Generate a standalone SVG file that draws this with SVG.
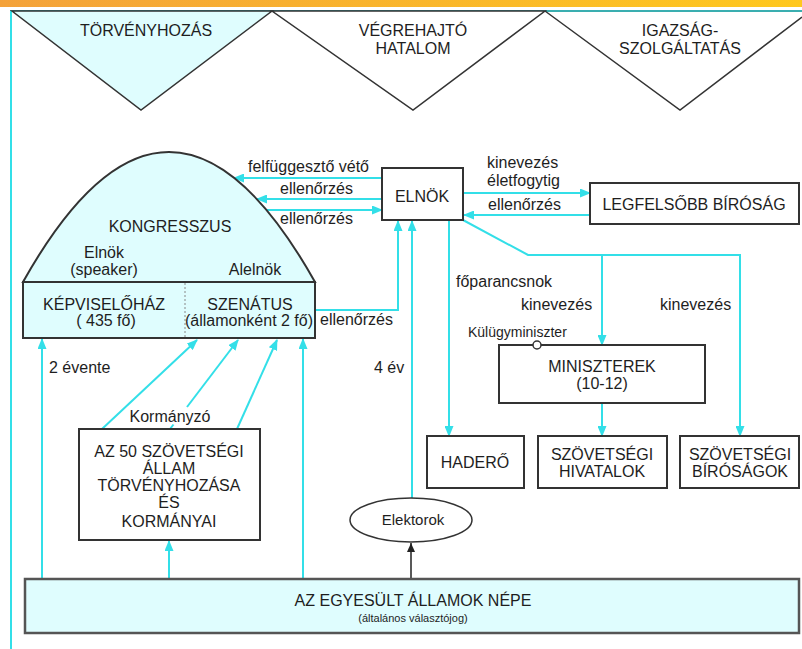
<svg xmlns="http://www.w3.org/2000/svg" width="802" height="649" viewBox="0 0 802 649">
<defs>
<linearGradient id="topbar" x1="0" y1="0" x2="1" y2="0">
<stop offset="0" stop-color="#f4a23a"/>
<stop offset="1" stop-color="#ffc81e"/>
</linearGradient>
<marker id="ac" markerUnits="userSpaceOnUse" markerWidth="11" markerHeight="9" refX="10" refY="4.5" orient="auto">
<path d="M0,0 L11,4.5 L0,9 z" fill="#33dfe8"/>
</marker>
<marker id="ak" markerUnits="userSpaceOnUse" markerWidth="9" markerHeight="8" refX="9" refY="4" orient="auto">
<path d="M0,0 L9,4 L0,8 z" fill="#222"/>
</marker>
<style>
text{font-family:"Liberation Sans",Arial,sans-serif;font-size:16px;fill:#1e1e1e}
.m{text-anchor:middle}
.s{font-size:14px}
.e{font-size:15px}
.xs{font-size:11px}
.box{fill:#fff;stroke:#333;stroke-width:2}
.lbox{fill:#dffdfe;stroke:#333;stroke-width:2}
.tri{fill:#fff;stroke:#333;stroke-width:1.5}
.c{fill:none;stroke:#33dfe8;stroke-width:2}
.ca{fill:none;stroke:#33dfe8;stroke-width:2;marker-end:url(#ac)}
.ka{fill:none;stroke:#222;stroke-width:1.5;marker-end:url(#ak)}
</style>
</defs>
<rect x="0" y="0" width="802" height="649" fill="#fff"/>
<rect x="0" y="0" width="802" height="7" fill="url(#topbar)"/>
<line x1="10" y1="11" x2="802" y2="11" stroke="#3aaeb0" stroke-width="2"/>
<line x1="11" y1="11" x2="11" y2="649" stroke="#33dfe8" stroke-width="2"/>

<g id="branches">
<polygon class="tri" points="12,11 272,11 141,110" style="fill:#dffdfe"/>
<polygon class="tri" points="272,11 545,11 413,110"/>
<polyline points="545,11 680,110 802,17" fill="none" stroke="#333" stroke-width="1.5"/>
<text class="m" x="146" y="36">TÖRVÉNYHOZÁS</text>
<text class="m" x="413" y="36">VÉGREHAJTÓ</text>
<text class="m" x="413" y="54">HATALOM</text>
<text class="m" x="680" y="36">IGAZSÁG-</text>
<text class="m" x="680" y="54">SZOLGÁLTATÁS</text>
</g>

<g id="connectors">
<line class="ca" x1="382" y1="178" x2="234" y2="178"/>
<line class="ca" x1="382" y1="199" x2="257" y2="199"/>
<line class="ca" x1="266" y1="210" x2="382" y2="210"/>
<line class="ca" x1="463" y1="193" x2="590" y2="193"/>
<line class="ca" x1="590" y1="215" x2="464" y2="215"/>
<polyline class="ca" points="463,220 528,255 740,255 740,436"/>
<line class="ca" x1="602" y1="255" x2="602" y2="345"/>
<line class="ca" x1="449" y1="220" x2="449" y2="436"/>
<polyline class="ca" points="315,310 398,310 398,221"/>
<line class="ca" x1="412" y1="498" x2="412" y2="221"/>
<line class="ca" x1="602" y1="403" x2="602" y2="436"/>
<line class="ca" x1="42" y1="579" x2="42" y2="339"/>
<line class="ca" x1="303" y1="579" x2="303" y2="339"/>
<line class="ca" x1="169" y1="579" x2="169" y2="541"/>
<line class="ca" x1="102" y1="429" x2="197" y2="340"/>
<line class="c" x1="170" y1="429" x2="173.5" y2="424.5"/>
<line class="ca" x1="187" y1="407" x2="238" y2="340"/>
<line class="ca" x1="237" y1="429" x2="277" y2="340"/>
<line class="ka" x1="411" y1="579" x2="411" y2="543"/>
<text x="248" y="172">felfüggesztő vétő</text>
<text x="280" y="194">ellenőrzés</text>
<text x="280" y="224">ellenőrzés</text>
<text x="320" y="325">ellenőrzés</text>
<text x="487" y="168">kinevezés</text>
<text x="487" y="186">életfogytig</text>
<text x="488" y="210">ellenőrzés</text>
<text x="456" y="287">főparancsnok</text>
<text x="521" y="310">kinevezés</text>
<text x="660" y="310">kinevezés</text>
<text class="s" x="468" y="337">Külügyminiszter</text>
<text x="49" y="373">2 évente</text>
<text x="374" y="373">4 év</text>
<text class="m" x="170" y="422">Kormányzó</text>
</g>

<g id="kongresszus">
<path d="M23,282 Q169,22 315,282 Z" fill="#dffdfe" stroke="#333" stroke-width="2"/>
<text class="m" x="170" y="232">KONGRESSZUS</text>
<text class="m" x="104" y="258">Elnök</text>
<text class="m" x="104" y="275">(speaker)</text>
<text class="m" x="255" y="275">Alelnök</text>
</g>

<g id="kepviselohaz">
<rect class="lbox" x="23" y="282" width="292" height="56"/>
<line x1="185" y1="283" x2="185" y2="337" stroke="#888" stroke-width="1" stroke-dasharray="2,2"/>
<text class="m" x="104" y="310">KÉPVISELŐHÁZ</text>
<text class="m" x="106" y="326">( 435 fő)</text>
</g>

<g id="szenatus">
<text class="m" x="250" y="310">SZENÁTUS</text>
<text class="m" x="249" y="326">(államonként 2 fő)</text>
</g>

<g id="elnok">
<rect class="box" x="382" y="168" width="81" height="52"/>
<text class="m" x="422" y="202">ELNÖK</text>
</g>

<g id="legfelsobb">
<rect class="box" x="590" y="183" width="209" height="41"/>
<text class="m" x="694" y="210">LEGFELSŐBB BÍRÓSÁG</text>
</g>

<g id="miniszterek">
<rect class="box" x="499" y="345" width="206" height="58"/>
<circle cx="537" cy="345" r="4" fill="#fff" stroke="#333" stroke-width="1.5"/>
<text class="m" x="602" y="372">MINISZTEREK</text>
<text class="m" x="602" y="389">(10-12)</text>
</g>

<g id="hadero">
<rect class="box" x="427" y="436" width="97" height="52"/>
<text class="m" x="475" y="468">HADERŐ</text>
</g>

<g id="hivatalok">
<rect class="box" x="538" y="436" width="129" height="52"/>
<text class="m" x="602" y="460">SZÖVETSÉGI</text>
<text class="m" x="602" y="477">HIVATALOK</text>
</g>

<g id="birosagok">
<rect class="box" x="680" y="436" width="119" height="52"/>
<text class="m" x="740" y="460">SZÖVETSÉGI</text>
<text class="m" x="740" y="477">BÍRÓSÁGOK</text>
</g>

<g id="allamok">
<rect class="box" x="79" y="429" width="181" height="111"/>
<text class="m" x="169" y="457">AZ 50 SZÖVETSÉGI</text>
<text class="m" x="169" y="474">ÁLLAM</text>
<text class="m" x="169" y="491">TÖRVÉNYHOZÁSA</text>
<text class="m" x="169" y="508">ÉS</text>
<text class="m" x="169" y="527">KORMÁNYAI</text>
</g>

<g id="elektorok">
<ellipse cx="411" cy="520" rx="61" ry="22" fill="#fff" stroke="#333" stroke-width="1.5"/>
<text class="e m" x="413" y="525">Elektorok</text>
</g>

<g id="nepe">
<rect x="25" y="579" width="774" height="54" fill="#dffdfe" stroke="#555" stroke-width="2.5"/>
<text class="m" x="413" y="606">AZ EGYESÜLT ÁLLAMOK NÉPE</text>
<text class="xs m" x="413" y="622">(általános választójog)</text>
</g>
</svg>
